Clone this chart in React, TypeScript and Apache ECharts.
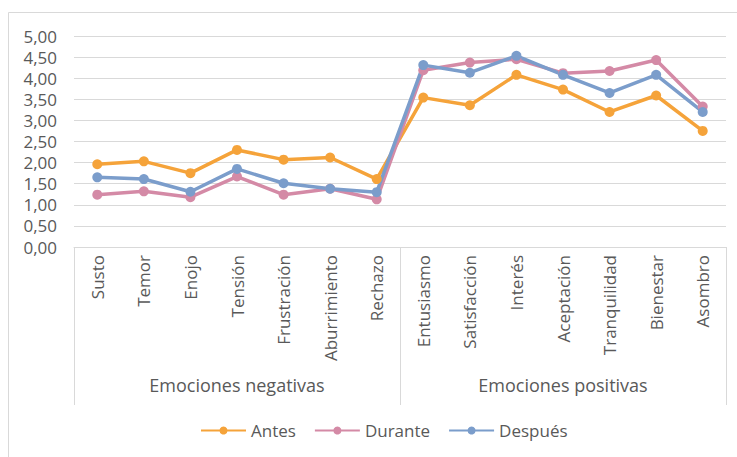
import React, { useEffect, useRef } from "react";
import * as echarts from "echarts";

const categories = [
  "Susto", "Temor", "Enojo", "Tensión", "Frustración", "Aburrimiento", "Rechazo",
  "Entusiasmo", "Satisfacción", "Interés", "Aceptación", "Tranquilidad", "Bienestar", "Asombro",
];
const groups = ["Emociones negativas", "Emociones positivas"];
const antes = [1.96, 2.03, 1.75, 2.3, 2.07, 2.12, 1.61, 3.54, 3.36, 4.08, 3.73, 3.2, 3.59, 2.75];
const durante = [1.24, 1.32, 1.18, 1.67, 1.24, 1.38, 1.13, 4.19, 4.37, 4.45, 4.12, 4.17, 4.43, 3.33];
const despues = [1.65, 1.61, 1.31, 1.85, 1.51, 1.38, 1.3, 4.31, 4.13, 4.53, 4.08, 3.65, 4.08, 3.2];
const seriesNames = ["Antes", "Durante", "Después"];
const colors = ["#F5A33A", "#D48AA6", "#7B9DCB"];

const FONT = "'Open Sans', sans-serif";
const TXT = "#595959";

export default function App() {
  const ref = useRef<HTMLDivElement>(null);
  useEffect(() => {
    const chart = echarts.init(ref.current!, null, { renderer: "svg" });
    const mk = (name: string, data: number[], color: string) => ({
      name,
      type: "line",
      data,
      symbol: "circle",
      symbolSize: 10,
      lineStyle: { width: 3.5, color },
      itemStyle: { color },
      xAxisIndex: 0,
    });
    chart.setOption({
      animation: false,
      textStyle: { fontFamily: FONT },
      graphic: [
        { type: "line", shape: { x1: 8.5, y1: 12.5, x2: 737, y2: 12.5 }, style: { stroke: "#d9d9d9", lineWidth: 1 } },
        { type: "line", shape: { x1: 8.5, y1: 12.5, x2: 8.5, y2: 457 }, style: { stroke: "#d9d9d9", lineWidth: 1 } },
      ],
      grid: { left: 74, right: 11, top: 36, bottom: 210, containLabel: false },
      legend: {
        data: seriesNames,
        bottom: 13,
        left: 195,
        itemWidth: 45,
        itemHeight: 10,
        itemGap: 18,
        textStyle: { color: TXT, fontSize: 17, fontFamily: FONT },
      },
      xAxis: [
        {
          type: "category",
          data: categories,
          boundaryGap: true,
          axisLine: { lineStyle: { color: "#d9d9d9" } },
          axisTick: { show: false },
          axisLabel: { rotate: 90, interval: 0, color: TXT, fontSize: 17, margin: 8, fontFamily: FONT },
        },
        {
          type: "category",
          data: groups,
          position: "bottom",
          boundaryGap: true,
          axisLine: { show: false },
          axisTick: { show: true, length: 158, alignWithLabel: false, lineStyle: { color: "#d9d9d9" } },
          axisLabel: { interval: 0, color: TXT, fontSize: 18, margin: 129, fontFamily: FONT },
        },
      ],
      yAxis: {
        type: "value",
        min: 0,
        max: 5,
        interval: 0.5,
        axisLine: { show: false },
        axisTick: { show: false },
        splitLine: { lineStyle: { color: "#d9d9d9" } },
        axisLabel: {
          color: TXT,
          fontSize: 17,
          margin: 17,
          fontFamily: FONT,
          formatter: (v: number) => v.toFixed(2).replace(".", ","),
        },
      },
      series: [
        mk(seriesNames[0], antes, colors[0]),
        mk(seriesNames[1], durante, colors[1]),
        mk(seriesNames[2], despues, colors[2]),
      ],
    });
    return () => chart.dispose();
  }, []);
  return <div ref={ref} style={{ width: 737, height: 457, position: "absolute", left: 0, top: 0 }} />;
}
